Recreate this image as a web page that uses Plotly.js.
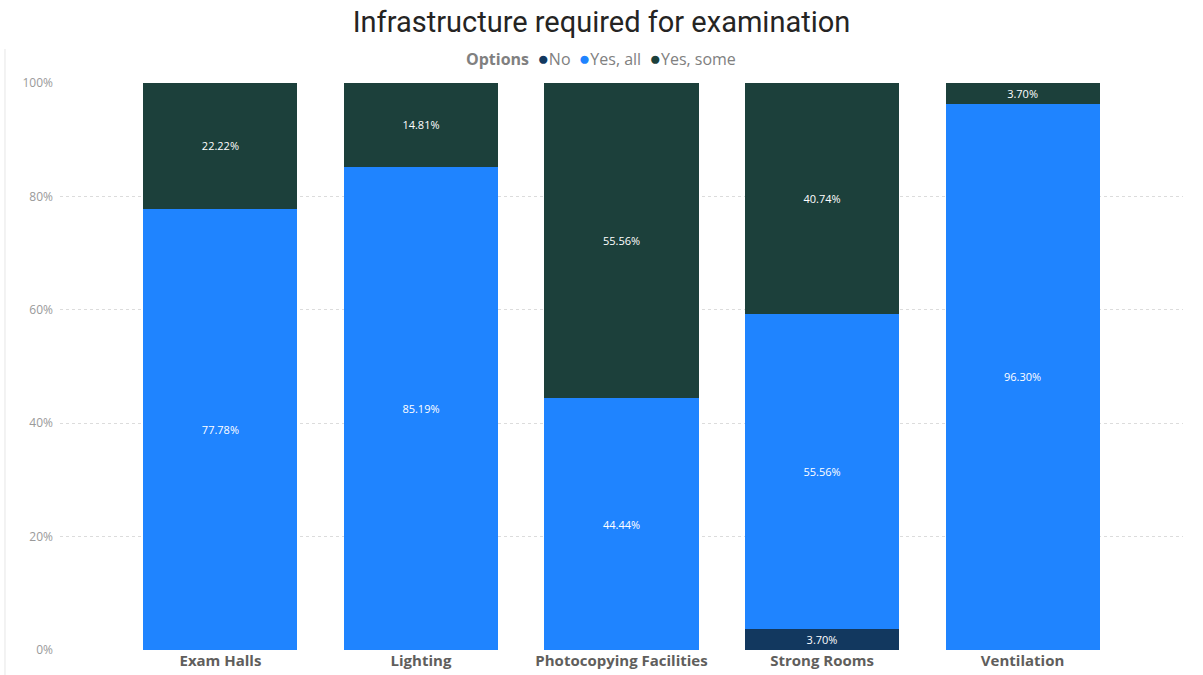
<!DOCTYPE html>
<html>
<head>
<meta charset="utf-8">
<script src="https://cdn.plot.ly/plotly-3.0.1.min.js"></script>
<style>html,body{margin:0;padding:0;background:#fff;}#chart{width:1203px;height:675px;}</style>
</head>
<body>
<div id="chart"></div>
<script>
const categories = ["Exam Halls", "Lighting", "Photocopying Facilities", "Strong Rooms", "Ventilation"];
const seriesNames = ["No", "Yes, all", "Yes, some"];
const noVals = [0, 0, 0, 3.70, 0];
const yesAllVals = [77.78, 85.19, 44.44, 55.56, 96.30];
const yesSomeVals = [22.22, 14.81, 55.56, 40.74, 3.70];
const colors = ["#12385F", "#1F84FF", "#1C403B"];
const yTickVals = [0, 20, 40, 60, 80, 100];
const yTickText = ["0%", "20%", "40%", "60%", "80%", "100%"];

const allVals = [noVals, yesAllVals, yesSomeVals];
const traces = [];
allVals.forEach((vals, i) => {
  traces.push({
    type: 'bar',
    x: categories,
    y: vals,
    name: seriesNames[i],
    marker: {color: colors[i]},
    text: vals.map(v => v > 0 ? v.toFixed(2) + '%' : ''),
    textposition: 'inside',
    insidetextanchor: 'middle',
    textangle: 0,
    textfont: {color: '#ffffff', size: 11, family: 'Open Sans, sans-serif'},
    constraintext: 'none',
    showlegend: false,
    hoverinfo: 'skip'
  });
});

const legendText = '<b>Options</b>  ' + seriesNames.map((n, i) =>
  '<span style="color:' + colors[i] + ';font-size:19px">●</span>' + n).join('  ');

const layout = {
  width: 1203, height: 675,
  paper_bgcolor: '#ffffff', plot_bgcolor: '#ffffff',
  margin: {l: 60, r: 20, t: 83, b: 25},
  barmode: 'stack',
  bargap: 0.232,
  showlegend: false,
  title: {
    text: 'Infrastructure required for examination',
    font: {family: 'Roboto, sans-serif', size: 29, color: '#252423'},
    x: 0.5, xanchor: 'center', y: 0.967, yanchor: 'middle'
  },
  annotations: [{
    text: legendText,
    xref: 'paper', yref: 'paper',
    x: 0.4817, xanchor: 'center',
    y: 1.044, yanchor: 'middle',
    showarrow: false,
    font: {family: 'Open Sans, sans-serif', size: 16, color: '#808080'}
  }],
  xaxis: {
    type: 'category',
    range: [-0.8, 4.8],
    showgrid: false,
    zeroline: false,
    showline: false,
    ticks: '',
    tickfont: {family: 'Open Sans, sans-serif', size: 15, color: '#605E5C', weight: 'bold'},
    fixedrange: true
  },
  yaxis: {
    range: [0, 100],
    tickvals: yTickVals,
    ticktext: yTickText,
    showgrid: true,
    gridcolor: '#dcdcdc',
    gridwidth: 1,
    griddash: 'dot',
    zeroline: false,
    showline: false,
    ticks: '',
    ticklabelstandoff: 6,
    tickfont: {family: 'Open Sans, sans-serif', size: 12, color: '#9a9a9a'},
    fixedrange: true
  },
  shapes: [{
    type: 'line', xref: 'paper', yref: 'paper',
    x0: -0.049, x1: -0.049, y0: -0.045, y1: 1.06,
    line: {color: '#e6e6e6', width: 1}
  }]
};

Plotly.newPlot('chart', traces, layout, {displayModeBar: false, staticPlot: true});
</script>
</body>
</html>
